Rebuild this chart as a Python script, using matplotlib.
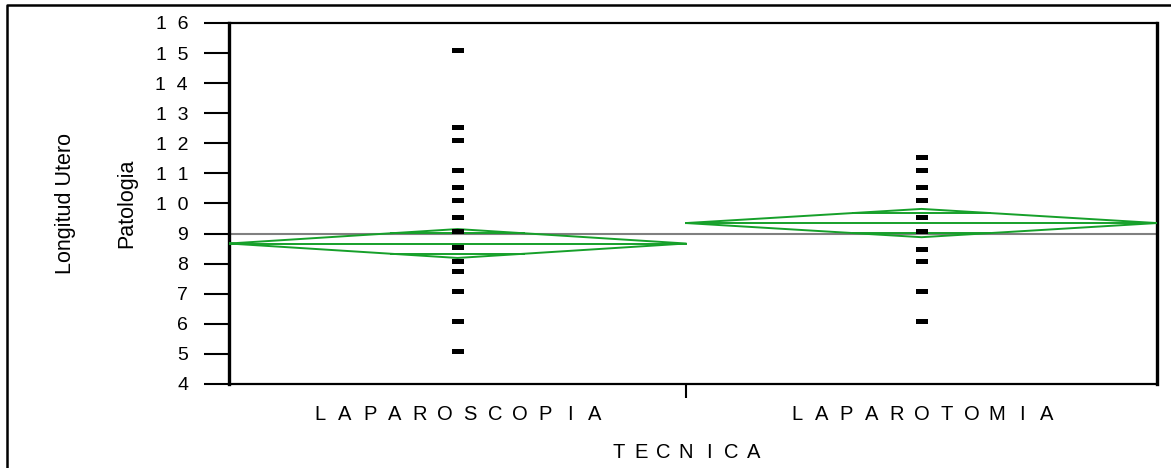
import matplotlib
matplotlib.use("Agg")
import matplotlib.pyplot as plt
from matplotlib.lines import Line2D
import numpy as np

# ── Data ──────────────────────────────────────────────────────────────
groups = ["LAPAROSCOPIA", "LAPAROTOMIA"]
group_share = [0.4925, 0.5075]          # width of each level on the x axis
group_means = [8.67, 9.35]
group_ci = [0.48, 0.47]                 # half-height of the mean diamonds
grand_mean = 9.0

lap_scopia = [15.1, 12.55, 12.1, 11.1, 10.55, 10.1, 9.55, 9.1, 8.55, 8.1,
              7.75, 7.1, 6.1, 5.1]
lap_tomia = [11.55, 11.1, 10.55, 10.1, 9.55, 9.1, 8.5, 8.1, 7.1, 6.1]
points = [lap_scopia, lap_tomia]

y_ticks = list(range(4, 17))
x_title = "TECNICA"
y_title = ["Longitud Utero", "Patologia"]

GREEN = "#16a02a"
plt.rcParams["font.family"] = ["Liberation Sans", "DejaVu Sans"]

W, H = 1171, 468
AX_L, AX_R, AX_T, AX_B = 229, 1157, 23, 384
fig = plt.figure(figsize=(W / 100, H / 100), dpi=100)
ax = fig.add_axes([AX_L / W, 1 - AX_B / H, (AX_R - AX_L) / W, (AX_B - AX_T) / H])
ax.set_xlim(0, 1)
ax.set_ylim(4, 16)


def letter_spaced(text, xc, y, pitch_px, size):
    """Draw text one letter at a time, evenly spread around xc (axes coords)."""
    step = pitch_px / (AX_R - AX_L)
    n = len(text)
    for k, ch in enumerate(text):
        ax.text(xc + (k - (n - 1) / 2) * step, y, ch, transform=ax.transAxes,
                ha="center", va="center", fontsize=size)


# grand mean
ax.axhline(grand_mean, color="#808080", lw=1.5, zorder=1)

# mean diamonds with overlap marks
bounds = np.concatenate([[0], np.cumsum(group_share)])
rect = [(-1, -0.45), (1, -0.45), (1, 0.45), (-1, 0.45), (-1, -0.45)]
for i, (m, ci) in enumerate(zip(group_means, group_ci)):
    x0, x1 = bounds[i], bounds[i + 1]
    xc = (x0 + x1) / 2
    ax.plot([x0, xc, x1, xc, x0], [m, m + ci, m, m - ci, m],
            color=GREEN, lw=1.4, zorder=3)
    ax.plot([x0, x1], [m, m], color=GREEN, lw=1.4, zorder=3)
    ov = ci / np.sqrt(2)
    half = (x1 - x0) / 2 * (1 - ov / ci)
    for s in (1, -1):
        ax.plot([xc - half, xc + half], [m + s * ov, m + s * ov],
                color=GREEN, lw=1.4, zorder=3)
    ax.plot([xc] * len(points[i]), points[i], ls="none", marker=rect,
            ms=8, color="black", mec="black", mew=0, zorder=4)

# axes styling
ax.set_yticks(y_ticks)
ax.set_yticklabels(["  ".join(str(v)) for v in y_ticks], fontsize=14)
ax.tick_params(axis="y", direction="out", length=18, width=1.5, pad=11.5)
ax.set_xticks([bounds[1]])
ax.set_xticklabels([""])
ax.tick_params(axis="x", direction="out", length=10, width=1.5)
for side, lw in (("left", 2.4), ("right", 2.4), ("top", 1.6), ("bottom", 1.6)):
    ax.spines[side].set_linewidth(lw)

for i, g in enumerate(groups):
    xc = (bounds[i] + bounds[i + 1]) / 2
    letter_spaced(g, xc, -0.085, 25, 14.5)
letter_spaced(x_title, bounds[1], -0.19, 22.5, 14.5)

fig.text(65 / W, 1 - 203 / H, y_title[0], rotation=90, ha="center",
         va="center", fontsize=15.5)
fig.text(127 / W, 1 - 203 / H, y_title[1], rotation=90, ha="center",
         va="center", fontsize=15.5)

# outer frame (only left and top edges are visible)
fig.add_artist(Line2D([7 / W, 7 / W, 1.0], [0.0, 1 - 5 / H, 1 - 5 / H],
                      transform=fig.transFigure, color="black", lw=1.8))

fig.savefig("out.png", dpi=100)
